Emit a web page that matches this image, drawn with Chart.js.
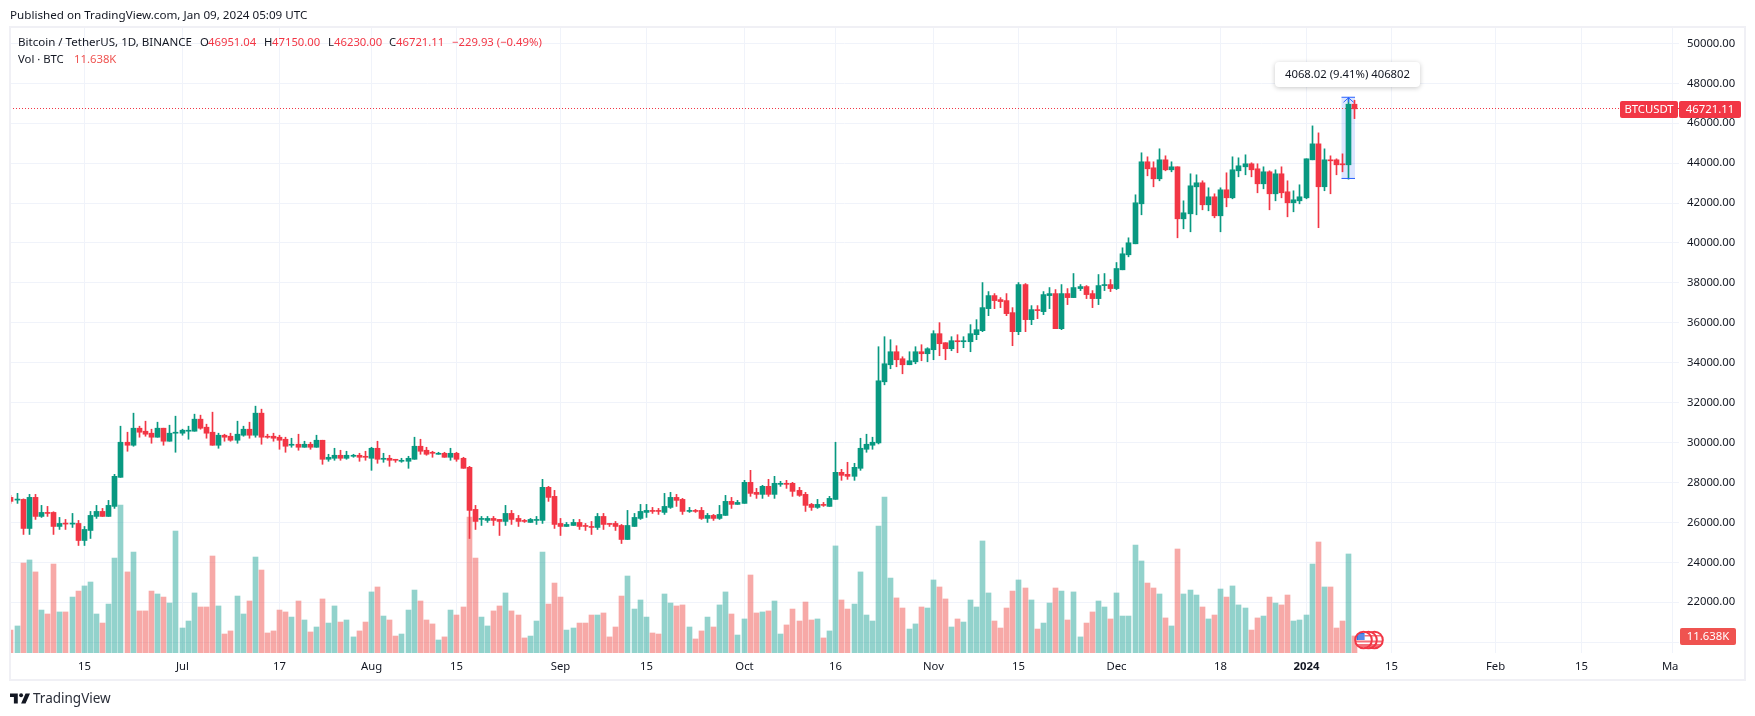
<!DOCTYPE html>
<html>
<head>
<meta charset="utf-8">
<title>BTCUSDT</title>
<script src="https://cdn.jsdelivr.net/npm/chart.js@4"></script>
<style>
  html, body { margin: 0; padding: 0; background: #fff; }
  body { width: 1755px; height: 716px; position: relative; overflow: hidden; font-family: "Noto Sans", sans-serif; color: #131722; }
  canvas { position: absolute; left: 0; top: 0; }
  .txt { position: absolute; white-space: nowrap; font-size: 11.3px; line-height: 14px; }
  .red { color: #f23645; }
  #rangeBox { position: absolute; left: 1275px; top: 62px; width: 145px; height: 25px; line-height: 24px; text-align: center; background: #fff;
    border-radius: 4px; box-shadow: 0 1px 5px rgba(0,0,0,.22); font-size: 11.3px; }
  #logo { position: absolute; left: 10px; top: 690px; width: 20px; height: 16px; }
</style>
</head>
<body>
<canvas id="grafik" width="1755" height="716"></canvas>

<div class="txt" style="left:10px;top:8px;font-size:11.65px">Published on TradingView.com, Jan 09, 2024 05:09 UTC</div>
<div class="txt" style="left:18px;top:35px;font-size:11.55px">Bitcoin / TetherUS, 1D, BINANCE</div>
<div class="txt" style="left:200px;top:35px">O</div><div class="txt red" style="left:208px;top:35px">46951.04</div>
<div class="txt" style="left:264px;top:35px">H</div><div class="txt red" style="left:272px;top:35px">47150.00</div>
<div class="txt" style="left:328px;top:35px">L</div><div class="txt red" style="left:334px;top:35px">46230.00</div>
<div class="txt" style="left:389px;top:35px">C</div><div class="txt red" style="left:396px;top:35px">46721.11</div>
<div class="txt red" style="left:452px;top:35px">−229.93 (−0.49%)</div>
<div class="txt" style="left:18px;top:52px">Vol · BTC</div><div class="txt" style="left:74px;top:52px;color:#ef5350">11.638K</div>
<div id="rangeBox">4068.02 (9.41%) 406802</div>
<svg id="logo" viewBox="0 0 36 28"><path fill="#131722" d="M14 6H0v6h7v12h7V6zM28 24h-8l8-18h8l-8 18z"/><circle fill="#131722" cx="20" cy="9" r="3.5"/></svg>
<div class="txt" style="left:33px;top:690px;font-size:13.5px;line-height:16px;color:#2a2e39">TradingView</div>

<script>
// daily candles, 3 Jun 2023 - 9 Jan 2024 (one row per month)
const opens = [
  27254,27120,27154,25698,27255,26300,26501,26501,25798,25949,25916,25949,25095,25597,26300,26551,26300,26803,28259,30017,29866,30720,30569,30469,30268,30720,30067,30469,
  30469,30569,30569,31172,30770,30519,29866,30368,30318,30117,30368,30669,30368,31473,30318,30318,30268,30167,29866,29916,29765,29916,29765,30117,29163,29213,29364,29213,29313,29364,29313,
  29213,29715,29163,29213,29163,29062,29062,29163,29816,29615,29514,29414,29464,29263,29464,29213,28761,26652,26150,26100,26200,26150,26049,26451,26200,26100,25999,26100,26100,27757,27305,
  25949,25798,25848,25999,25848,25798,25748,26300,25949,25949,25848,25145,25798,26200,26501,26602,26602,26501,26752,27254,27154,26551,26602,26602,26200,26351,26200,26351,27054,26903,
  26953,28008,27506,27405,27807,27405,27907,27958,27958,27606,27405,26903,26752,26903,26802,27154,28510,28410,28309,28711,29665,29866,29982,33045,33899,34551,34200,33899,34049,34551,34451,
  34652,35456,35003,34702,35104,35053,35053,35405,35606,36711,37364,37163,37113,36510,35556,37916,36159,36661,36560,37364,37464,35707,37464,37263,37715,37816,37464,37213,37866,37916,
  37715,38656,39408,39959,41963,44067,43766,43215,44167,43666,43816,41211,41462,42814,43015,41913,42313,41362,42664,42263,43616,43816,43967,43716,42965,43566,42464,43466,42564,42013,42113,
  42263,44166,44966,42816,44166,44166,43967,43916,46951.04
];
const highs = [
  27355,27456,27180,27405,27405,26853,26803,26535,26250,26150,26451,26100,25798,26551,26853,26702,27104,28410,30820,30519,31473,30820,31071,30670,31021,30720,30870,31322,
  30670,30820,31423,31373,30921,31523,30469,30419,30469,31071,30820,31021,31824,31674,30418,30469,30368,30268,30217,30418,30067,30017,30368,30117,29414,29715,29615,29565,29414,29464,29565,
  29765,30067,29464,29364,29163,29213,29313,30268,30167,29765,29565,29514,29514,29715,29514,29263,28811,26853,26300,26300,26300,26150,26853,26602,26351,26150,26200,26300,28158,27807,27606,
  26200,25999,26150,26150,25949,26049,26451,26451,25949,26049,25899,26602,26451,26903,26903,26752,26702,27455,27506,27405,27204,26752,26652,26752,26451,26401,26853,27355,27254,27104,
  28108,28610,27706,27857,28158,28309,28058,28108,28008,27757,27506,26953,27154,27003,27305,30017,28661,29012,28962,30217,30418,30268,34803,35305,35154,34853,34300,34551,34803,34903,34752,
  35606,36008,35003,35305,35405,35305,35908,36159,38017,37565,37464,37263,37464,36761,38017,37967,36862,36862,37565,37766,37665,37916,37715,38469,37916,37866,37615,38419,38469,38167,
  39021,39758,40259,42414,44518,44317,44067,44718,44367,44067,43816,42113,43466,43416,43115,42764,42464,42764,43516,44317,44267,44417,44017,43967,43816,43616,43666,43816,43115,42614,42915,
  44217,45866,45516,44716,44366,44216,44466,47218,47150
];
const lows = [
  26953,26953,25397,25397,26150,26250,26300,25397,25648,25648,25748,24844,24844,25196,26200,26300,26300,26702,28259,29565,29816,30268,30318,29967,30268,29866,30067,29515,
  30368,30167,30569,30670,30218,29866,29715,30067,30067,29967,30318,30217,30268,29916,30217,30067,29665,29514,29765,29615,29765,29665,29765,28912,29062,29113,29113,29163,29263,29062,29113,
  28610,28962,29012,28811,29012,29012,28711,29163,29414,29364,29263,29414,29263,29113,29062,28711,25195,25647,25848,25999,25848,25346,25848,25899,25798,25999,25999,25899,25949,27054,25698,
  25346,25798,25848,25647,25597,25396,25647,25647,25798,25597,24944,25145,25798,26150,26250,26451,26401,26401,26702,26802,26401,26501,26501,26150,25999,26100,26150,26351,26702,26903,
  26953,27305,27204,27204,27305,27204,27807,27706,27305,27305,26551,26602,26702,26802,26802,27154,28108,28158,28108,28610,29514,29665,29931,32894,33698,33798,33447,33899,33949,34100,34049,
  34150,34351,34150,34602,34501,34752,34551,35154,35556,36359,36711,36761,36359,34853,35405,35556,35908,36209,36410,36711,35707,35656,36912,37263,37615,37213,36761,36912,37615,37565,
  37665,38656,39307,39959,41412,43365,42814,43115,43616,43566,40259,40710,40560,41412,41662,41612,41261,40560,41813,42213,43315,43416,43315,42514,42714,41662,42113,42263,41311,41562,41963,
  42213,44166,40765,42616,42465,43416,43566,43197,46230
];
const closes = [
  27054,27154,25698,27255,26300,26501,26451,25798,25949,25916,25949,25095,25648,26351,26551,26300,26853,28309,30017,29866,30720,30519,30419,30268,30720,30067,30469,30519,
  30619,30619,31172,30720,30469,29866,30368,30268,30117,30419,30669,30368,31473,30268,30268,30217,30117,29816,29916,29765,29916,29765,30117,29163,29263,29364,29213,29364,29364,29263,29263,
  29715,29163,29213,29113,29113,29113,29213,29816,29565,29414,29464,29464,29263,29464,29163,28711,26602,26049,26200,26200,26100,26049,26451,26150,26049,26049,26150,26150,27757,27254,25899,
  25798,25899,25999,25798,25798,25748,26300,25899,25899,25798,25145,25848,26250,26551,26602,26551,26551,26802,27254,27104,26551,26602,26551,26200,26351,26200,26401,27054,26903,27003,
  28008,27455,27405,27807,27405,27958,27958,27907,27556,27355,26853,26752,26903,26853,27204,28510,28359,28309,28761,29715,29916,30017,33095,33949,34551,34150,33899,34100,34551,34451,34702,
  35456,34953,34702,35104,35053,35104,35456,35656,36761,37364,37113,37063,36460,35556,37916,36159,36661,36611,37414,37464,35707,37464,37263,37766,37816,37414,37213,37866,37916,37715,
  38720,39458,40009,42013,44067,43716,43215,44167,43666,43816,41211,41512,42864,43015,41913,42313,41362,42664,42263,43666,43866,43967,43666,42965,43566,42464,43466,42514,42013,42163,42313,
  44217,44966,42816,44166,44116,43916,43916,46951,46721.11
];
// volume in thousands of BTC
const volumes = [
  15.7,18.5,61.6,63.7,55.5,29.4,26.7,60.9,28.1,28.1,38.3,42.4,45.9,48.6,26.7,20.5,33.5,65.0,101.3,55.5,69.1,28.8,28.8,42.4,40.4,38.3,34.2,83.5,
  17.1,21.9,41.1,31.5,31.5,66.4,32.2,13.0,15.1,39.0,26.7,35.6,65.7,56.8,13.7,15.1,29.4,28.1,24.6,35.6,22.6,14.4,17.8,37.0,20.5,32.2,21.2,22.6,11.0,15.1,21.2,
  41.8,45.2,25.3,22.6,11.6,13.0,29.4,43.1,35.6,22.6,19.9,8.9,11.0,29.4,26.0,31.5,93.1,65.0,24.6,18.5,28.8,32.2,41.1,28.8,26.0,10.3,11.6,21.9,69.1,33.5,47.9,
  38.3,15.7,17.1,20.5,20.5,26.0,26.0,27.4,11.0,17.8,39.0,52.7,30.1,36.3,24.6,13.7,13.0,40.4,34.2,32.2,32.9,17.8,9.6,15.1,24.6,17.8,32.9,41.8,26.7,12.3,
  23.3,53.4,27.4,28.1,28.8,35.6,13.0,19.2,30.1,21.9,34.9,22.6,23.3,10.3,15.1,73.3,36.3,30.1,33.5,55.5,26.0,21.9,86.9,106.8,51.3,37.7,30.8,16.4,19.9,31.5,30.8,
  50.0,45.2,37.0,17.8,23.3,21.2,36.3,31.5,76.7,41.1,21.9,17.1,30.8,42.4,50.0,44.5,36.3,16.4,20.5,34.2,44.5,42.4,22.6,41.8,11.0,20.5,28.1,35.6,31.5,23.3,
  41.1,25.3,25.3,73.9,63.0,47.9,44.5,40.4,24.0,18.5,71.2,40.4,43.1,39.7,31.5,23.3,26.0,43.8,38.3,45.9,32.9,30.8,15.7,24.0,25.3,38.3,34.2,32.9,39.7,21.9,22.6,
  26.0,60.9,76.0,45.2,45.2,17.1,21.9,67.8,11.638
];

// time axis: day index counted from 3 Jun 2023
const timeTicks = [12,28,44,59,73,90,104,120,135,151,165,181,198,212,226,243,257,272];
const timeLabels = ['15','Jul','17','Aug','15','Sep','15','Oct','16','Nov','15','Dec','18','2024','15','Feb','15','Mar'];
const priceTicks = [20000,22000,24000,26000,28000,30000,32000,34000,36000,38000,40000,42000,44000,46000,48000,50000];
const lastPrice = 46721.11;
const lastVolume = 11.638;
// price range drawing on the 8 Jan candle
const rangeLow = 43232;
const rangeHigh = 47300;
const rangeDay = 219;

const HIJAU = '#089981', MERAH = '#f23645';
const FONT = '"Noto Sans", sans-serif';
const isUp = i => closes[i] >= opens[i];

// snap bars and grid to whole pixels, like the original
class SnapScale extends Chart.LinearScale {
    getPixelForValue(v) { return Math.floor(super.getPixelForValue(v)) + 0.5; }
}
SnapScale.id = 'snap';
SnapScale.defaults = Chart.LinearScale.defaults;
Chart.register(SnapScale);

function tag(ctx, x, y, w, h, color, text, font) {
    ctx.fillStyle = color;
    ctx.beginPath();
    ctx.roundRect(x, y, w, h, 2);
    ctx.fill();
    ctx.fillStyle = '#fff';
    ctx.font = font;
    ctx.textAlign = 'center';
    ctx.textBaseline = 'middle';
    ctx.fillText(text, x + w / 2, y + h / 2 + 0.5);
}

function flagIcon(ctx, x, y) {
    // economic events marker next to the last bar: flag coin with two coins behind
    [x + 11, x + 5, x].forEach(cx => {
        ctx.save();
        ctx.beginPath();
        ctx.arc(cx, y, 8.3, 0, Math.PI * 2);
        ctx.clip();
        ctx.fillStyle = '#fff';
        ctx.fillRect(cx - 9, y - 9, 18, 18);
        ctx.fillStyle = '#f4707a';
        ctx.fillRect(cx - 9, y + 0.5, 18, 2);
        ctx.fillRect(cx - 9, y + 4, 18, 3);
        ctx.fillRect(cx + 1, y - 5, 8, 1.5);
        if (cx === x) {
            ctx.fillStyle = '#2f6fe0';
            ctx.fillRect(cx - 7, y - 7, 8, 7);
            ctx.fillStyle = '#cfe0ff';
            for (let r = 0; r < 3; r++) {
                for (let c = 0; c < 3; c++) ctx.fillRect(cx - 5 + c * 2, y - 5.5 + r * 2, 1, 1);
            }
        }
        ctx.restore();
        ctx.lineWidth = 2;
        ctx.strokeStyle = '#f23645';
        ctx.beginPath();
        ctx.arc(cx, y, 8.3, 0, Math.PI * 2);
        ctx.stroke();
    });
}

const hiasan = {
    id: 'hiasan',
    beforeDatasetsDraw(chart) {
        const { ctx, scales: { x, y } } = chart;
        const top = y.getPixelForValue(rangeHigh), bottom = y.getPixelForValue(rangeLow);
        ctx.save();
        ctx.fillStyle = 'rgba(41,98,255,.16)';
        ctx.fillRect(x.getPixelForValue(rangeDay) - 7, top, 13.5, bottom - top);
        ctx.restore();
    },
    afterDatasetsDraw(chart) {
        const { ctx, chartArea: a, scales: { x, y, yVol } } = chart;
        ctx.save();
        // time labels stop at the price scale
        ctx.fillStyle = '#fff';
        ctx.fillRect(a.right, a.bottom + 1, 70, 26);

        // range drawing
        const cx = x.getPixelForValue(rangeDay);
        const top = y.getPixelForValue(rangeHigh), bottom = y.getPixelForValue(rangeLow);
        ctx.strokeStyle = '#2962ff';
        ctx.lineWidth = 1;
        ctx.beginPath();
        ctx.moveTo(cx - 7, top); ctx.lineTo(cx + 6.5, top);
        ctx.moveTo(cx - 7, bottom); ctx.lineTo(cx + 6.5, bottom);
        ctx.moveTo(cx - 5, top + 5); ctx.lineTo(cx, top + 0.5); ctx.lineTo(cx + 5, top + 5);
        ctx.moveTo(cx, top); ctx.lineTo(cx, top + 5);
        ctx.stroke();

        // frame around the chart
        ctx.strokeStyle = '#f0f0f5';
        ctx.lineWidth = 2;
        ctx.strokeRect(10, 27, 1735, 653);

        flagIcon(ctx, x.getPixelForValue(rangeDay) + 15, 640);

        const font = '11.3px ' + FONT;
        const py = Math.round(y.getPixelForValue(lastPrice));
        tag(ctx, 1620, py - 8, 58, 17, MERAH, 'BTCUSDT', font);
        tag(ctx, 1679, py - 8, 62, 17, MERAH, '46721.11', font);
        tag(ctx, 1680, 628, 56, 17, '#ef5350', lastVolume.toFixed(3) + 'K', font);
        ctx.restore();
    }
};

const days = opens.map((_, i) => i);
const xMin = -0.16, xMax = 273.04;
const yMin = 19458, yMax = 50820;

new Chart(document.getElementById('grafik').getContext('2d'), {
    type: 'bar',
    data: {
        datasets: [
            {
                type: 'line', label: 'last', order: 4, yAxisID: 'yLast',
                data: [{ x: xMin, y: lastPrice }, { x: xMax, y: lastPrice }],
                borderColor: MERAH, borderWidth: 1, borderDash: [1, 2], borderDashOffset: 0.5, pointRadius: 0
            },
            {
                label: 'Vol', order: 3, yAxisID: 'yVol', maxBarThickness: 5,
                data: days.map(i => ({ x: i, y: volumes[i] })),
                backgroundColor: days.map(i => isUp(i) ? 'rgba(38,166,154,.5)' : 'rgba(239,83,80,.5)')
            },
            {
                label: 'wick', order: 2, yAxisID: 'y', maxBarThickness: 1,
                data: days.map(i => ({ x: i, y: [lows[i], highs[i]] })),
                backgroundColor: days.map(i => isUp(i) ? HIJAU : MERAH)
            },
            {
                label: 'body', order: 1, yAxisID: 'y', maxBarThickness: 5, minBarLength: 1,
                data: days.map(i => ({ x: i, y: [Math.min(opens[i], closes[i]), Math.max(opens[i], closes[i])] })),
                backgroundColor: days.map(i => isUp(i) ? HIJAU : MERAH)
            }
        ]
    },
    options: {
        responsive: false,
        animation: false,
        datasets: { bar: { grouped: false, barPercentage: 1, categoryPercentage: 1, borderWidth: 0 } },
        layout: { padding: { left: 10, top: 27, right: 10, bottom: 36 } },
        plugins: { legend: { display: false }, tooltip: { enabled: false } },
        scales: {
            x: {
                type: 'snap', min: xMin, max: xMax, offset: false,
                grid: { color: '#f0f3fa', offset: false, drawTicks: false },
                border: { display: false },
                afterBuildTicks: s => { s.ticks = timeTicks.map(v => ({ value: v })); },
                afterFit: s => { s.height = 27; },
                ticks: {
                    autoSkip: false, maxRotation: 0, padding: 7, color: '#131722',
                    font: c => ({ family: FONT, size: 11.3, weight: c.tick && c.tick.value === 212 ? 'bold' : 'normal' }),
                    callback: v => timeLabels[timeTicks.indexOf(v)]
                }
            },
            y: {
                position: 'right', min: yMin, max: yMax,
                grid: { color: '#f0f3fa', drawTicks: false },
                border: { display: false },
                afterBuildTicks: s => { s.ticks = priceTicks.map(v => ({ value: v })); },
                afterFit: s => { s.width = 66; },
                ticks: { padding: 8, color: '#131722', font: { family: FONT, size: 11.3 }, callback: v => v.toFixed(2) }
            },
            // hidden twin of y, so the dotted last price line lands on a whole pixel
            yLast: { type: 'snap', display: false, position: 'right', min: yMin, max: yMax },
            yVol: { display: false, position: 'right', min: 0, max: 428.6 }
        }
    },
    plugins: [hiasan]
});
</script>
</body>
</html>
